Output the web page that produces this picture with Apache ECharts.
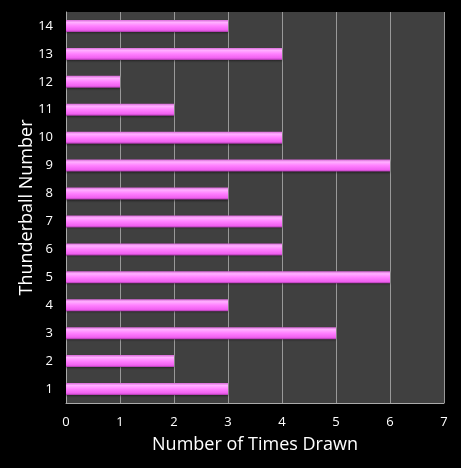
<!DOCTYPE html>
<html>
<head>
<meta charset="utf-8">
<script src="https://cdn.jsdelivr.net/npm/echarts@6/dist/echarts.min.js"></script>
<style>
  html, body { margin: 0; padding: 0; background: #000; }
  #chart { width: 461px; height: 468px; }
</style>
</head>
<body>
<div id="chart"></div>
<script>
// thunderball numbers, bottom to top
const numbers = ['1', '2', '3', '4', '5', '6', '7', '8', '9', '10', '11', '12', '13', '14'];
const timesDrawn = [3, 2, 5, 3, 6, 4, 4, 3, 6, 4, 2, 1, 4, 3];
const xTicks = [0, 7, 1]; // min, max, interval

const myChart = echarts.init(document.getElementById('chart'));

const barColor = new echarts.graphic.LinearGradient(0, 0, 0, 1, [
  { offset: 0, color: '#d868d8' },
  { offset: 0.2, color: '#ffb0ff' },
  { offset: 0.5, color: '#ff80ff' },
  { offset: 0.85, color: '#f060f0' },
  { offset: 1, color: '#a838a8' }
]);

const option = {
  backgroundColor: '#000',
  animation: false,
  textStyle: { fontFamily: 'Open Sans' },
  grid: {
    left: 66, right: 17, top: 12, bottom: 65,
    show: true, backgroundColor: '#404040', borderWidth: 0
  },
  xAxis: {
    type: 'value',
    min: xTicks[0], max: xTicks[1], interval: xTicks[2],
    name: 'Number of Times Drawn',
    nameLocation: 'middle',
    nameGap: 33,
    nameMoveOverlap: false,
    nameTextStyle: { color: '#fff', fontSize: 18 },
    axisLine: { show: true, lineStyle: { color: '#aaa' } },
    axisTick: { show: false },
    axisLabel: { color: '#fff', fontSize: 13, margin: 13 },
    splitLine: { show: true, lineStyle: { color: '#999', width: 1 } }
  },
  yAxis: {
    type: 'category',
    data: numbers,
    name: 'Thunderball Number',
    nameLocation: 'middle',
    nameGap: 30,
    nameMoveOverlap: false,
    nameTextStyle: { color: '#fff', fontSize: 18 },
    axisLine: { show: true, lineStyle: { color: '#aaa' } },
    axisTick: { show: false },
    axisLabel: { color: '#fff', fontSize: 13, margin: 13 },
    splitLine: { show: false }
  },
  series: [{
    type: 'bar',
    data: timesDrawn,
    barWidth: 12,
    itemStyle: {
      color: barColor,
      shadowColor: 'rgba(0,0,0,0.45)',
      shadowOffsetY: 1,
      shadowBlur: 2
    }
  }]
};

myChart.setOption(option);
</script>
</body>
</html>
